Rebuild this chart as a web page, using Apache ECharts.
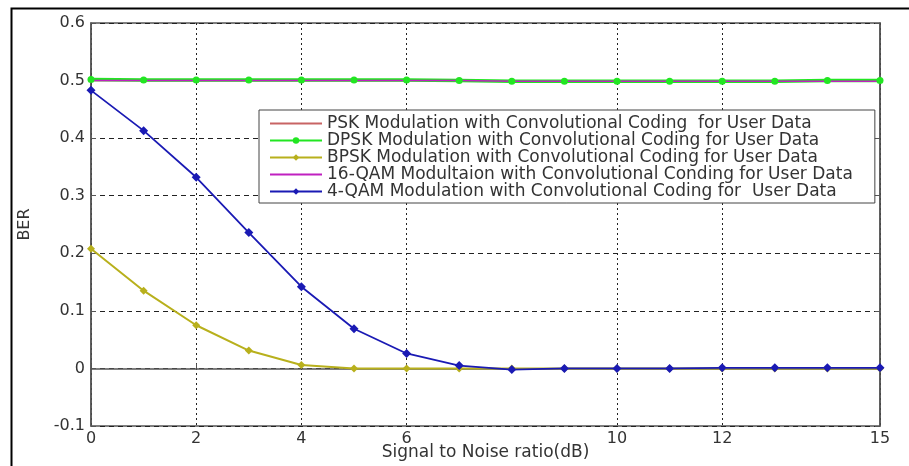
<!DOCTYPE html>
<html>
<head>
<meta charset="utf-8">
<script src="https://cdn.jsdelivr.net/npm/echarts@6/dist/echarts.min.js"></script>
<style>
  html, body { margin: 0; padding: 0; background: #fff; }
  #chart { width: 909px; height: 466px; }
</style>
</head>
<body>
<div id="chart"></div>
<script>
// SNR in dB
var snr = [0, 1, 2, 3, 4, 5, 6, 7, 8, 9, 10, 11, 12, 13, 14, 15];
var xTicks = [0, 2, 4, 6, 10, 12, 15];

var pskBer = [0.5, 0.5, 0.5, 0.5, 0.5, 0.5, 0.5, 0.5, 0.5, 0.5, 0.5, 0.5, 0.5, 0.5, 0.5, 0.5];
var dpskBer = [0.502, 0.501, 0.501, 0.501, 0.501, 0.501, 0.501, 0.5, 0.499, 0.499, 0.499, 0.499, 0.499, 0.499, 0.5, 0.5];
var bpskBer = [0.208, 0.135, 0.075, 0.031, 0.006, 0, 0, 0, 0, 0, 0, 0, 0, 0, 0, 0];
var qam16Ber = [0.5, 0.5, 0.5, 0.5, 0.5, 0.5, 0.5, 0.5, 0.499, 0.499, 0.499, 0.499, 0.499, 0.499, 0.499, 0.499];
var qam4Ber = [0.483, 0.413, 0.332, 0.236, 0.142, 0.069, 0.026, 0.005, -0.002, 0, 0, 0, 0.001, 0.001, 0.001, 0.001];

var seriesNames = [
  "PSK Modulation with Convolutional Coding  for User Data",
  "DPSK Modulation with Convolutional Coding for User Data",
  "BPSK Modulation with Convolutional Coding for User Data",
  "16-QAM Modultaion with Convolutional Conding for User Data",
  "4-QAM Modulation with Convolutional Coding for  User Data"
];

function pairs(ys) {
  return snr.map(function (x, i) { return [x, ys[i]]; });
}

var chart = echarts.init(document.getElementById("chart"));
chart.setOption({
  animation: false,
  textStyle: { fontFamily: "DejaVu Sans, sans-serif" },
  graphic: [
    {
      type: "rect",
      left: 9, top: 6,
      shape: { width: 910, height: 470 },
      style: { fill: "none", stroke: "#000", lineWidth: 2 },
      silent: true
    }
  ],
  grid: {
    left: 91, top: 23, right: 29, bottom: 40,
    outerBoundsMode: "none",
    show: true,
    borderColor: "#555",
    borderWidth: 1.5
  },
  legend: {
    orient: "vertical",
    left: 259,
    top: 110,
    padding: [5, 22, 3, 10],
    itemWidth: 52,
    itemHeight: 8,
    itemGap: 0,
    backgroundColor: "#fff",
    borderColor: "#444",
    borderWidth: 1,
    borderRadius: 0,
    textStyle: { fontSize: 17, color: "#333", lineHeight: 17 },
    data: [
      { name: seriesNames[0], itemStyle: { opacity: 0 } },
      { name: seriesNames[1] },
      { name: seriesNames[2] },
      { name: seriesNames[3], itemStyle: { opacity: 0 } },
      { name: seriesNames[4] }
    ]
  },
  xAxis: {
    type: "value",
    min: 0,
    max: 15,
    name: "Signal to Noise ratio(dB)",
    nameLocation: "middle",
    nameGap: 27,
    nameMoveOverlap: false,
    nameTextStyle: { fontSize: 17, color: "#333", verticalAlign: "middle" },
    axisLine: { show: true, lineStyle: { color: "#555", width: 1.5 } },
    axisTick: { show: true, inside: true, length: 5, customValues: xTicks, lineStyle: { color: "#555" } },
    axisLabel: { customValues: xTicks, fontSize: 16, color: "#333", margin: 5 },
    splitLine: { show: true, lineStyle: { color: "#222", type: [2, 3], width: 1 } }
  },
  yAxis: [
    {
      type: "value",
      min: -0.1,
      max: 0.6,
      interval: 0.1,
      name: "BER",
      nameLocation: "middle",
      nameGap: 58,
      nameTextStyle: { fontSize: 16, color: "#333" },
      axisLine: { show: true, lineStyle: { color: "#555", width: 1.5 } },
      axisTick: { show: true, inside: true, length: 5, lineStyle: { color: "#555" } },
      axisLabel: {
        fontSize: 16, color: "#333", margin: 6,
        formatter: function (v) { return Math.round(v * 10) / 10 + ""; }
      },
      splitLine: { show: true, lineStyle: { color: "#222", type: [5, 4], width: 1 } }
    },
    {
      type: "value",
      position: "right",
      min: -0.1,
      max: 0.6,
      interval: 0.1,
      axisLine: { show: true, lineStyle: { color: "#555", width: 1.5 } },
      axisTick: { show: true, inside: true, length: 5, lineStyle: { color: "#555" } },
      axisLabel: { show: false },
      splitLine: { show: false }
    }
  ],
  series: [
    {
      name: seriesNames[0], type: "line", data: pairs(pskBer),
      color: "#c86464", symbol: "none", lineStyle: { width: 1.2 }
    },
    {
      name: seriesNames[1], type: "line", data: pairs(dpskBer),
      color: "#22e622", symbol: "circle", symbolSize: 7, lineStyle: { width: 3.5 }
    },
    {
      name: seriesNames[2], type: "line", data: pairs(bpskBer),
      color: "#b8b01c", symbol: "diamond", symbolSize: 8, lineStyle: { width: 2 }
    },
    {
      name: seriesNames[3], type: "line", data: pairs(qam16Ber),
      color: "#c020c0", symbol: "none", lineStyle: { width: 1.5 }
    },
    {
      name: seriesNames[4], type: "line", data: pairs(qam4Ber),
      color: "#1a1ab4", symbol: "diamond", symbolSize: 9, lineStyle: { width: 1.8 }
    }
  ]
});
</script>
</body>
</html>
